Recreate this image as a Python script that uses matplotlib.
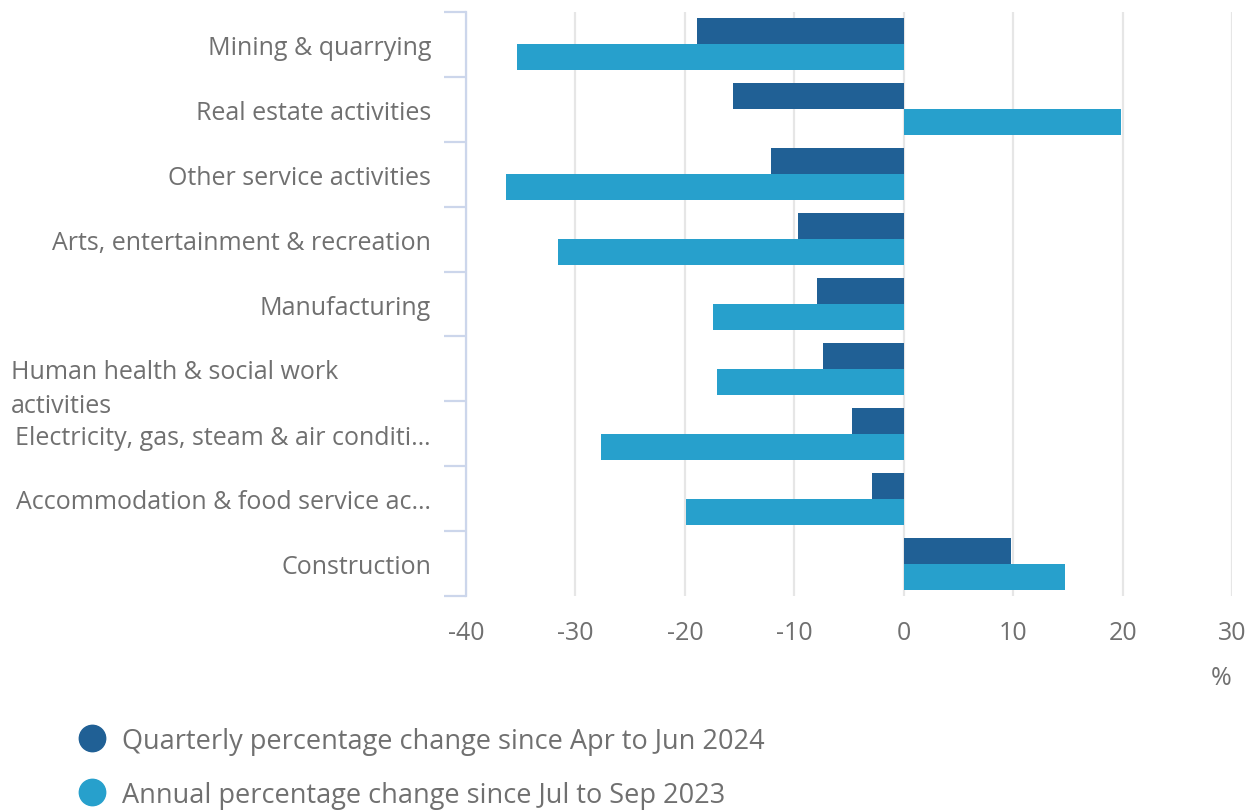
import numpy as np
import matplotlib.pyplot as plt
from matplotlib.lines import Line2D

plt.rcParams['font.family'] = ['Open Sans', 'DejaVu Sans']

categories = [
    "Mining & quarrying",
    "Real estate activities",
    "Other service activities",
    "Arts, entertainment & recreation",
    "Manufacturing",
    "Human health & social work\nactivities",
    "Electricity, gas, steam & air conditi\u2026",
    "Accommodation & food service ac\u2026",
    "Construction",
]
quarterly = [-18.9, -15.6, -12.1, -9.7, -7.9, -7.4, -4.7, -2.9, 9.8]
annual = [-35.3, 19.9, -36.3, -31.6, -17.4, -17.1, -27.7, -19.9, 14.7]
series_names = [
    "Quarterly percentage change since Apr to Jun 2024",
    "Annual percentage change since Jul to Sep 2023",
]
xticks = [-40, -30, -20, -10, 0, 10, 20, 30]

dark = "#206095"
light = "#27a0cc"
text_col = "#707070"
axis_col = "#ccd6eb"
grid_col = "#e6e6e6"

W, H = 1257, 812
fig = plt.figure(figsize=(W / 100, H / 100), dpi=100)
ax = fig.add_axes([466 / W, 1 - 597 / H, (1232 - 466) / W, (597 - 13) / H])

y = np.arange(len(categories))
ax.barh(y - 0.2, quarterly, height=0.4, color=dark, zorder=3)
ax.barh(y + 0.2, annual, height=0.4, color=light, zorder=3)

ax.set_xlim(-40, 30)
ax.set_ylim(len(categories) - 0.5, -0.5)
ax.set_xticks(xticks)
ax.set_xticklabels([str(t) for t in xticks])
ax.grid(axis='x', color=grid_col, linewidth=1.6, zorder=0)
ax.tick_params(axis='x', length=0, pad=17, labelsize=18, labelcolor=text_col)

ax.set_yticks(np.arange(len(categories) + 1) - 0.5)
ax.set_yticklabels([])
ax.tick_params(axis='y', length=16, width=1.6, color=axis_col)

for s in ['top', 'right', 'bottom']:
    ax.spines[s].set_visible(False)
ax.spines['left'].set_color(axis_col)
ax.spines['left'].set_linewidth(1.6)

trans = ax.get_yaxis_transform()
for i, lab in enumerate(categories):
    if "\n" in lab:
        ax.text((11 - 466) / (1232 - 466), i - 0.15, lab, transform=trans,
                ha='left', va='top', fontsize=18, color=text_col,
                linespacing=1.47, clip_on=False)
    else:
        ax.text((431 - 466) / (1232 - 466), i + 0.05, lab, transform=trans,
                ha='right', va='center', fontsize=18, color=text_col,
                clip_on=False)

fig.text(1232 / W, 1 - 679 / H, "%", ha='right', va='center',
         fontsize=18, color=text_col)

# legend drawn by hand, dots then labels
for k, (name, col) in enumerate(zip(series_names, [dark, light])):
    yy = 1 - (739 + 54 * k) / H
    fig.add_artist(Line2D([92 / W], [yy], marker='o', markersize=19,
                          color=col, linestyle='none', transform=fig.transFigure))
    fig.text(122 / W, yy - 3 / H, name, ha='left', va='center', fontsize=19.5,
             color=text_col)

fig.savefig("out.png", dpi=100)
